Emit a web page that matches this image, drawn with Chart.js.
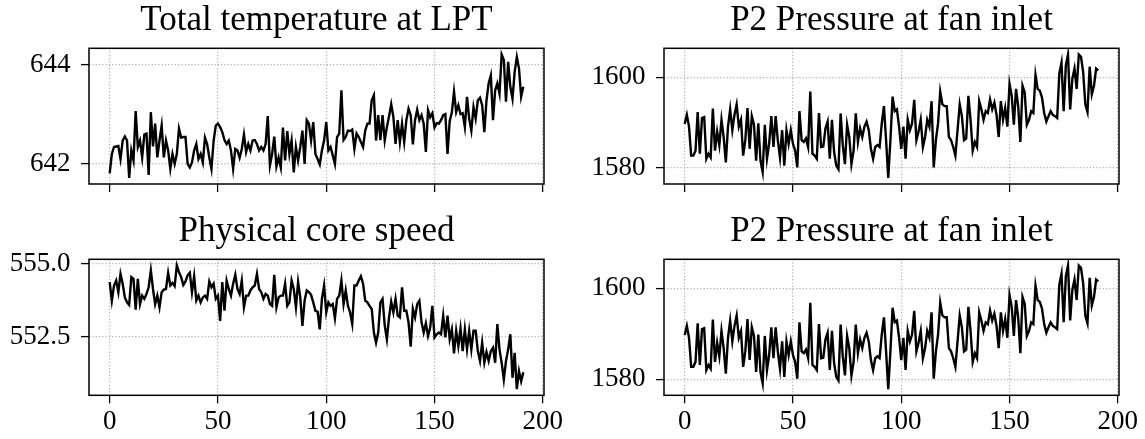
<!DOCTYPE html>
<html><head><meta charset="utf-8">
<script src="https://cdn.jsdelivr.net/npm/chart.js@4/dist/chart.umd.min.js"></script>
<style>
html,body{margin:0;padding:0;background:#fff;}
body{width:1145px;height:439px;position:relative;overflow:hidden;}
canvas{position:absolute;display:block;}
</style></head><body>
<canvas id="c1" width="572" height="219" style="left:0px;top:0px"></canvas>
<canvas id="c2" width="573" height="219" style="left:572px;top:0px"></canvas>
<canvas id="c3" width="572" height="234" style="left:0px;top:205px"></canvas>
<canvas id="c4" width="573" height="234" style="left:572px;top:205px"></canvas>
<script>
const cycles = Array.from({length: 192}, (_, i) => i);

const totalTempLPT = [
641.81,642.20,642.34,642.35,642.36,642.10,642.47,642.55,642.47,641.72,
642.27,642.07,643.06,642.34,642.47,642.13,642.59,642.61,641.78,643.04,
642.35,642.81,642.13,642.47,642.77,642.13,642.47,642.27,641.90,642.20,
642.00,642.20,642.71,642.53,642.54,642.54,642.00,641.93,642.03,642.27,
642.40,642.10,642.20,642.03,642.53,642.40,642.13,641.90,642.47,642.77,
642.81,642.74,642.64,642.48,642.40,642.47,642.27,641.90,642.30,642.27,
642.12,642.30,642.59,642.24,642.40,642.27,642.47,642.48,642.40,642.27,
642.34,642.27,642.40,642.96,641.97,642.20,642.55,641.95,642.13,641.93,
642.73,642.07,642.66,642.20,642.47,641.83,642.34,642.07,642.34,642.67,
642.00,642.88,642.81,642.47,642.84,642.20,642.10,641.99,642.27,642.47,
642.84,642.27,642.34,642.17,642.00,642.54,642.61,643.48,642.48,642.54,
642.67,642.66,642.69,642.30,642.61,642.54,642.44,642.34,642.67,642.81,
642.81,643.28,643.38,642.47,642.98,642.48,642.98,642.47,642.74,642.96,
643.20,642.94,642.40,642.88,642.44,642.81,642.44,642.88,643.11,642.98,
642.39,642.88,643.09,642.88,642.98,642.81,642.24,643.08,642.94,643.02,
642.73,642.82,642.81,642.88,642.98,643.00,642.20,642.86,643.04,643.45,
643.04,643.18,643.00,643.02,642.74,643.35,642.91,642.67,643.14,642.91,
643.28,643.33,643.18,642.64,643.28,643.62,643.78,642.88,643.48,643.62,
643.41,644.20,644.09,643.25,644.05,643.55,643.31,643.85,644.15,643.92,
643.35,643.55
];

const fanInletPressure = [
1589.7,1591.7,1589.1,1582.7,1582.7,1583.8,1592.3,1583.1,1591.0,1591.2,
1582.0,1583.1,1582.3,1593.1,1583.8,1588.0,1585.0,1590.6,1586.8,1581.2,
1589.1,1592.9,1588.3,1591.7,1594.0,1589.1,1590.6,1582.7,1586.1,1593.2,
1584.2,1591.4,1589.5,1581.6,1589.8,1581.6,1579.1,1589.5,1582.0,1585.3,
1591.4,1584.6,1591.4,1586.1,1582.3,1588.3,1580.5,1588.3,1585.3,1588.3,
1585.3,1583.8,1580.1,1592.5,1586.1,1585.7,1586.5,1584.6,1596.8,1583.1,
1582.7,1582.0,1592.1,1584.6,1584.7,1588.7,1590.2,1582.0,1590.6,1583.5,
1580.5,1579.7,1592.0,1585.0,1580.8,1589.5,1586.8,1580.8,1583.8,1592.0,
1585.7,1588.7,1586.8,1589.1,1590.2,1588.3,1584.2,1582.0,1584.6,1585.0,
1584.6,1589.8,1593.6,1586.1,1577.8,1586.1,1595.7,1592.5,1592.9,1589.1,
1584.2,1589.1,1582.0,1590.6,1588.3,1589.8,1595.0,1586.1,1588.0,1590.6,
1584.6,1586.8,1590.6,1589.1,1594.7,1580.1,1586.1,1589.8,1596.8,1594.0,
1593.6,1593.6,1586.8,1586.1,1584.6,1582.7,1588.3,1594.0,1591.4,1586.1,
1586.5,1595.9,1590.6,1583.8,1585.7,1584.6,1594.7,1592.9,1590.6,1592.5,
1592.1,1595.1,1592.9,1594.4,1591.7,1586.8,1594.7,1590.6,1593.2,1589.1,
1598.5,1595.9,1589.5,1597.4,1593.6,1585.7,1598.1,1596.6,1589.5,1590.6,
1592.5,1592.1,1600.5,1597.4,1597.0,1595.5,1592.1,1590.2,1591.4,1592.5,
1591.7,1591.4,1591.0,1600.8,1603.2,1592.5,1602.6,1605.0,1592.9,1599.6,
1601.9,1597.4,1605.0,1604.5,1601.1,1594.0,1592.3,1602.3,1596.2,1598.1,
1601.9,1601.5
];

const coreSpeed = [
554.38,553.74,554.26,554.43,554.03,554.66,554.32,553.85,553.68,553.59,
554.55,554.49,553.43,554.49,553.62,553.91,553.80,553.97,554.20,554.78,
554.14,553.62,553.91,553.51,554.03,554.12,554.14,554.70,554.26,554.35,
554.24,554.95,554.72,554.55,554.28,554.40,554.61,554.70,554.03,554.58,
553.74,553.91,553.68,553.85,553.91,553.80,554.40,554.20,554.32,553.80,
553.91,553.04,554.38,553.39,554.43,554.14,553.91,554.32,554.63,554.14,
553.97,554.43,553.51,553.91,553.91,554.09,554.20,554.26,554.66,554.14,
554.03,553.80,553.97,553.91,553.62,553.56,554.63,553.51,553.85,553.91,
553.91,554.32,553.56,553.68,554.43,554.14,553.51,554.38,553.85,552.87,
553.74,554.09,554.03,553.94,553.68,553.39,553.36,552.75,553.80,554.26,
553.33,553.68,553.56,553.62,553.13,553.80,553.91,554.43,553.62,554.09,
553.56,553.33,552.93,554.26,554.26,554.43,554.58,554.32,553.74,553.68,
553.56,553.45,552.64,552.29,552.64,553.68,553.80,552.89,552.41,553.16,
553.70,553.33,553.80,553.22,553.16,554.20,553.39,553.39,552.99,552.15,
553.45,553.16,553.62,553.74,552.99,552.64,552.96,552.52,552.81,553.56,
552.47,552.58,552.64,552.58,553.22,552.47,553.22,552.41,552.75,551.92,
552.70,552.18,552.78,552.00,552.75,552.06,552.70,552.06,552.70,552.70,
552.00,551.66,552.29,551.60,551.97,551.66,552.00,552.12,551.60,552.93,
552.06,551.60,551.02,551.66,552.06,552.58,551.08,551.94,550.69,551.31,
550.96,551.27
];

const xTicks = [0, 50, 100, 150, 200];
const xTickLabels = ['0', '50', '100', '150', '200'];
const tempTicks = [642, 644];
const tempTickLabels = ['642', '644'];
const speedTicks = [552.5, 555.0];
const speedTickLabels = ['552.5', '555.0'];
const pressureTicks = [1580, 1600];
const pressureTickLabels = ['1580', '1600'];
const titles = ['Total temperature at LPT', 'P2 Pressure at fan inlet', 'Physical core speed', 'P2 Pressure at fan inlet'];

const SERIF = "'Liberation Serif', 'DejaVu Serif', serif";

function bounds(arr) {
  const lo = Math.min(...arr), hi = Math.max(...arr), m = (hi - lo) * 0.05;
  return [lo - m, hi + m];
}
const [xMin, xMax] = bounds(cycles);

const framePlugin = {
  id: 'frame',
  afterDatasetsDraw(chart) {
    const {ctx, chartArea: a} = chart;
    ctx.save();
    ctx.strokeStyle = '#000';
    ctx.lineWidth = 1.5;
    ctx.strokeRect(a.left, a.top, a.right - a.left, a.bottom - a.top);
    ctx.restore();
  }
};

function makeChart(id, values, yTicks, yLabels, title, cfg) {
  const [yMin, yMax] = bounds(values);
  return new Chart(document.getElementById(id), {
    type: 'line',
    data: {
      datasets: [{
        data: cycles.map((c, i) => ({x: c, y: values[i]})),
        borderColor: '#000',
        borderWidth: 2.4,
        pointRadius: 0,
        tension: 0,
        fill: false
      }]
    },
    options: {
      responsive: false,
      animation: false,
      events: [],
      layout: {padding: {left: 0, right: cfg.padRight, top: 0, bottom: 0}},
      plugins: {
        legend: {display: false},
        tooltip: {enabled: false},
        title: {
          display: true, text: title, fullSize: false, color: '#000',
          font: {family: SERIF, size: 35, weight: 'normal', lineHeight: 1.0},
          padding: {top: cfg.titleTop, bottom: cfg.titleBottom}
        }
      },
      scales: {
        x: {
          type: 'linear', min: xMin, max: xMax,
          afterBuildTicks: s => { s.ticks = xTicks.map(v => ({value: v})); },
          afterFit: s => { s.height = cfg.xHeight; s.paddingLeft = 0; s.paddingRight = 0; },
          ticks: {
            display: cfg.showX, autoSkip: false, maxRotation: 0, minRotation: 0,
            color: '#000', padding: 2,
            font: {family: SERIF, size: 27, lineHeight: 1.2},
            callback: v => xTickLabels[xTicks.indexOf(v)]
          },
          grid: {color: '#b0b0b0', lineWidth: 1.2, tickColor: '#000', tickWidth: 1.3, tickLength: 8, tickBorderDash: []},
          border: {display: false, dash: [1.2, 2.1]}
        },
        y: {
          type: 'linear', min: yMin, max: yMax,
          afterBuildTicks: s => { s.ticks = yTicks.map(v => ({value: v})); },
          afterFit: s => { s.width = cfg.yWidth; s.paddingTop = 0; s.paddingBottom = 0; },
          ticks: {
            color: '#000', padding: 10.5,
            font: {family: SERIF, size: 27, lineHeight: 1.2},
            callback: v => yLabels[yTicks.indexOf(v)]
          },
          grid: {color: '#b0b0b0', lineWidth: 1.2, tickColor: '#000', tickWidth: 1.3, tickLength: 8, tickBorderDash: []},
          border: {display: false, dash: [1.2, 2.1]}
        }
      }
    },
    plugins: [framePlugin]
  });
}

makeChart('c1', totalTempLPT, tempTicks, tempTickLabels, titles[0],
  {yWidth: 89, xHeight: 35, padRight: 28, titleTop: 2.9, titleBottom: 10.4, showX: false});
makeChart('c2', fanInletPressure, pressureTicks, pressureTickLabels, titles[1],
  {yWidth: 92, xHeight: 35, padRight: 26, titleTop: 2.9, titleBottom: 10.4, showX: false});
makeChart('c3', coreSpeed, speedTicks, speedTickLabels, titles[2],
  {yWidth: 89, xHeight: 43.7, padRight: 28, titleTop: 8.9, titleBottom: 10.4, showX: true});
makeChart('c4', fanInletPressure, pressureTicks, pressureTickLabels, titles[3],
  {yWidth: 92, xHeight: 43.7, padRight: 26, titleTop: 8.9, titleBottom: 10.4, showX: true});
</script>
</body></html>
